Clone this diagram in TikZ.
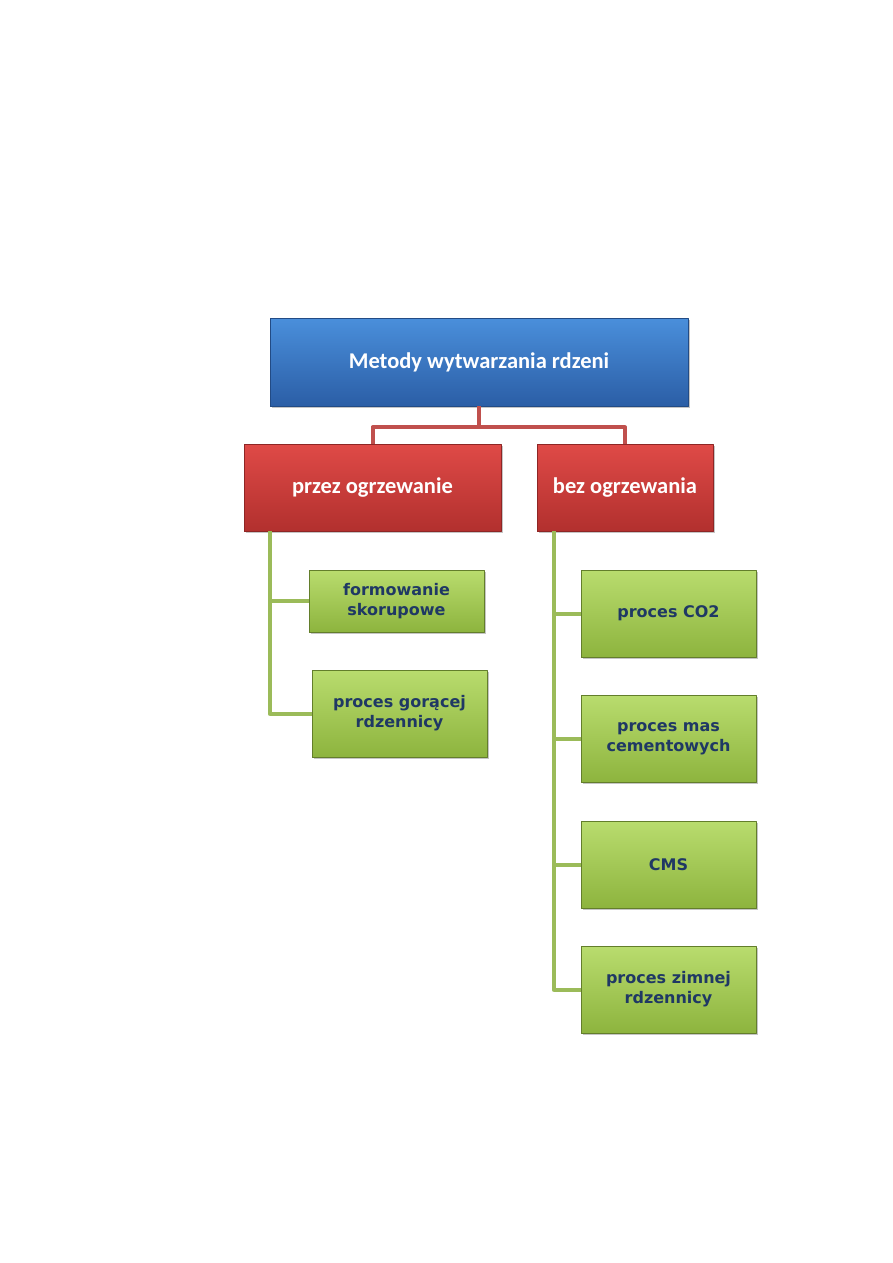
\documentclass[tikz,border=0pt]{standalone}
\usepackage{fontspec}
\setmainfont{Carlito}
\newfontfamily\leaffont{DejaVu Sans}
\usetikzlibrary{positioning,shadows}
\definecolor{rdzBlueTop}{HTML}{4A8FDB}
\definecolor{rdzBlueBot}{HTML}{2B5EA6}
\definecolor{rdzRedTop}{HTML}{DF4A47}
\definecolor{rdzRedBot}{HTML}{B2302E}
\definecolor{rdzGreenTop}{HTML}{B9DC6E}
\definecolor{rdzGreenBot}{HTML}{8DB43E}
\definecolor{rdzRedLine}{HTML}{C0504D}
\definecolor{rdzGreenLine}{HTML}{9BBB59}
\definecolor{rdzInk}{HTML}{1F3864}

\begin{document}
\begin{tikzpicture}[x=1pt,y=-1pt,line join=round]
\path[fill=white] (0,0) rectangle (893,1263);
\tikzset{basebox/.style={rectangle,inner sep=2pt,align=center,line width=0.8pt,drop shadow={shadow xshift=1.5pt,shadow yshift=-1.5pt,opacity=0.45}},
  rootbox/.style={basebox,draw=rdzBlueBot!80!black,top color=rdzBlueTop,bottom color=rdzBlueBot,text=white,font=\bfseries\fontsize{22.5}{26}\selectfont,minimum width=418pt,minimum height=88pt},
  midbox/.style={basebox,draw=rdzRedBot!80!black,top color=rdzRedTop,bottom color=rdzRedBot,text=white,font=\bfseries\fontsize{22.5}{26}\selectfont,minimum height=87pt},
  leafbox/.style={basebox,draw=rdzGreenBot!70!black,top color=rdzGreenTop,bottom color=rdzGreenBot,text=rdzInk,font=\leaffont\bfseries\fontsize{16}{20}\selectfont,minimum width=175pt,minimum height=87pt},
  redwire/.style={draw=rdzRedLine,line width=4pt},greenwire/.style={draw=rdzGreenLine,line width=4pt}}
\node[rootbox] (root) at (479,362) {Metody wytwarzania rdzeni};
\node[midbox,minimum width=257pt] (grzanie) at (372.5,487.5) {przez ogrzewanie};
\node[midbox,minimum width=176pt] (bezgrz) at (625,487.5) {bez ogrzewania};
\node[leafbox,minimum height=62pt] (skorup) at (396.5,601) {formowanie\\skorupowe};
\node[leafbox] (goraca) at (399.5,713.5) {proces gorącej\\rdzennicy};
\node[leafbox] (co2) at (668.5,613.5) {proces CO2};
\node[leafbox] (cement) at (668.5,738.5) {proces mas\\cementowych};
\node[leafbox] (cms) at (668.5,864.5) {CMS};
\node[leafbox] (zimna) at (668.5,989.5) {proces zimnej\\rdzennicy};
% tree lines
\draw[redwire] (root.south) -- ++(0,21) -| (grzanie.north);
\draw[redwire] (root.south) -- ++(0,21) -| (bezgrz.north);
\coordinate (lspine) at ([xshift=26pt]grzanie.south west);
\coordinate (rspine) at ([xshift=17pt]bezgrz.south west);
\draw[greenwire] (lspine) |- (skorup.west);
\draw[greenwire] (lspine) |- (goraca.west);
\foreach \leaf in {co2,cement,cms,zimna} \draw[greenwire] (rspine) |- (\leaf.west);
\end{tikzpicture}
\end{document}
